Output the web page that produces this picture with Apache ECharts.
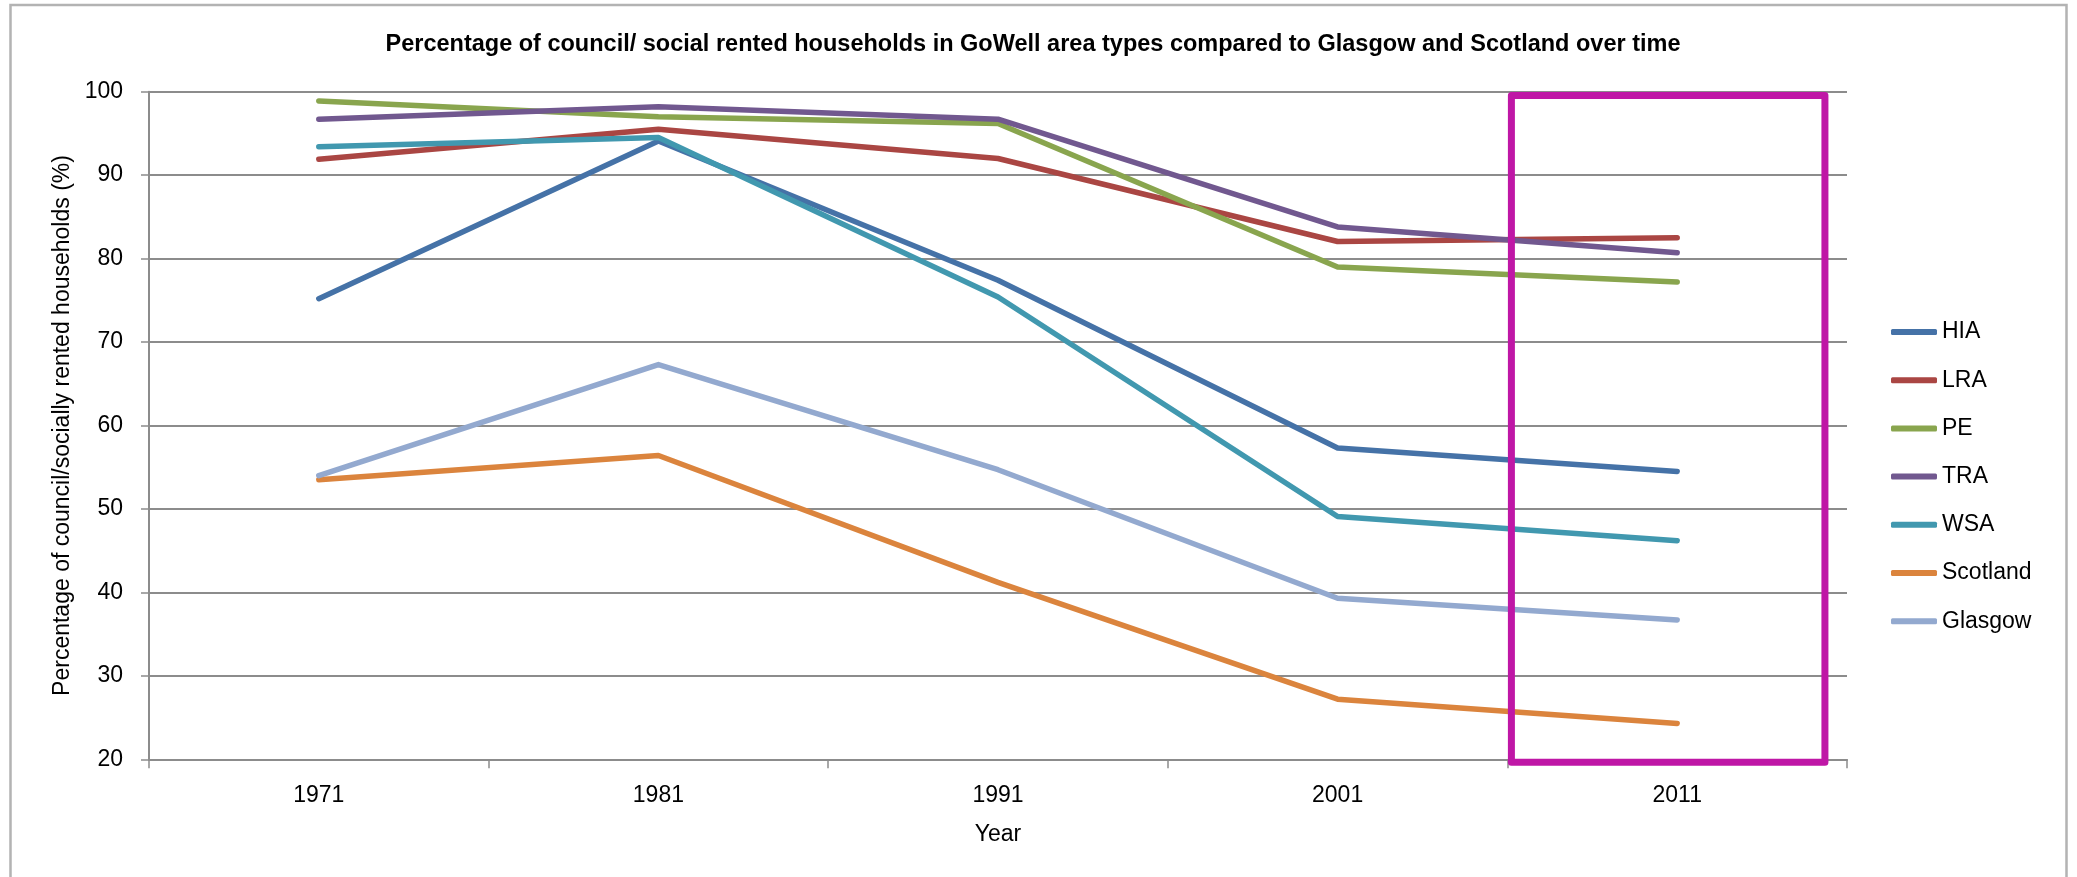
<!DOCTYPE html>
<html>
<head>
<meta charset="utf-8">
<script src="https://cdn.jsdelivr.net/npm/echarts@6/dist/echarts.min.js"></script>
<style>
html,body{margin:0;padding:0;background:#fff;}
#chart{width:2077px;height:877px;}
</style>
</head>
<body>
<div id="chart"></div>
<script>
const years = ['1971', '1981', '1991', '2001', '2011'];
const hia = [75.2, 94.1, 77.4, 57.3, 54.5];
const lra = [91.9, 95.5, 92.0, 82.05, 82.5];
const pe = [98.9, 97.0, 96.2, 79.0, 77.2];
const tra = [96.7, 98.2, 96.7, 83.8, 80.7];
const wsa = [93.4, 94.5, 75.4, 49.1, 46.2];
const scotland = [53.5, 56.4, 41.2, 27.2, 24.3];
const glasgow = [54.0, 67.3, 54.7, 39.3, 36.7];
const yTicks = [20, 30, 40, 50, 60, 70, 80, 90, 100];

const seriesDefs = [
  ['HIA', hia, '#4572A7'],
  ['LRA', lra, '#AA4643'],
  ['PE', pe, '#89A54E'],
  ['TRA', tra, '#71588F'],
  ['WSA', wsa, '#4198AF'],
  ['Scotland', scotland, '#DB843D'],
  ['Glasgow', glasgow, '#93A9CF']
];

const FONT = 'Liberation Sans';
const chart = echarts.init(document.getElementById('chart'), null, {renderer: 'canvas'});

const option = {
  animation: false,
  backgroundColor: '#fff',
  textStyle: {fontFamily: FONT, color: '#000'},
  title: {
    text: 'Percentage of council/ social rented households in GoWell area types compared to Glasgow and Scotland over time',
    left: 1028, top: 28, textAlign: 'center',
    textStyle: {fontFamily: FONT, fontSize: 23.5, fontWeight: 'bold', color: '#000'}
  },
  grid: {left: 149, right: 230, top: 91.7, bottom: 117.7, containLabel: false},
  legend: {
    orient: 'vertical',
    left: 1886, top: 313,
    itemWidth: 46, itemHeight: 6, itemGap: 20.2,
    icon: 'roundRect',
    data: seriesDefs.map(d => d[0]),
    textStyle: {fontFamily: FONT, fontSize: 23, color: '#000', lineHeight: 28}
  },
  xAxis: {
    type: 'category',
    data: years,
    boundaryGap: true,
    name: 'Year', nameLocation: 'middle', nameGap: 64,
    nameTextStyle: {fontFamily: FONT, fontSize: 23, color: '#000'},
    axisLine: {lineStyle: {color: '#8c8c8c', width: 2}},
    axisTick: {show: true, length: 9, lineStyle: {color: '#8c8c8c', width: 1.5}},
    axisLabel: {fontFamily: FONT, fontSize: 23, color: '#000', margin: 25}
  },
  yAxis: {
    type: 'value',
    min: yTicks[0], max: yTicks[yTicks.length - 1], interval: 10,
    name: 'Percentage of council/socially rented households (%)',
    nameLocation: 'middle', nameGap: 73, nameRotate: 90,
    nameTextStyle: {fontFamily: FONT, fontSize: 23, color: '#000'},
    axisLine: {show: true, lineStyle: {color: '#8c8c8c', width: 2}},
    axisTick: {show: true, length: 8, lineStyle: {color: '#8c8c8c', width: 1.5}},
    axisLabel: {fontFamily: FONT, fontSize: 23, color: '#000', margin: 26},
    splitLine: {show: true, lineStyle: {color: '#8c8c8c', width: 2}}
  },
  series: seriesDefs.map(d => ({
    name: d[0], type: 'line', data: d[1],
    symbol: 'none', showSymbol: false,
    color: d[2],
    lineStyle: {color: d[2], width: 5.5, cap: 'round', join: 'round'},
    itemStyle: {color: d[2]}
  }))
};
chart.setOption(option);

// Highlight box around the 2011 column and outer chart border
function px(cat, v) { return chart.convertToPixel({gridIndex: 0}, [cat, v]); }
const pA = px('2001', 99.55);
const pB = px('2011', 19.65);
const half = (pB[0] - pA[0]) / 2;
const boxLeft = pB[0] - half + 4;
const boxRight = pB[0] + half * 0.87;
const boxTop = pA[1];
const boxBottom = pB[1];

chart.setOption({
  graphic: [
    {
      type: 'rect', silent: true, z: 100,
      shape: {x: 10.5, y: 5, width: 2056, height: 900},
      style: {fill: 'none', stroke: '#b3b3b3', lineWidth: 2.5}
    },
    {
      type: 'rect', silent: true, z: 100,
      shape: {x: boxLeft, y: boxTop, width: boxRight - boxLeft, height: boxBottom - boxTop},
      style: {fill: 'none', stroke: '#BF17A6', lineWidth: 7, lineJoin: 'round'}
    }
  ]
});
</script>
</body>
</html>
